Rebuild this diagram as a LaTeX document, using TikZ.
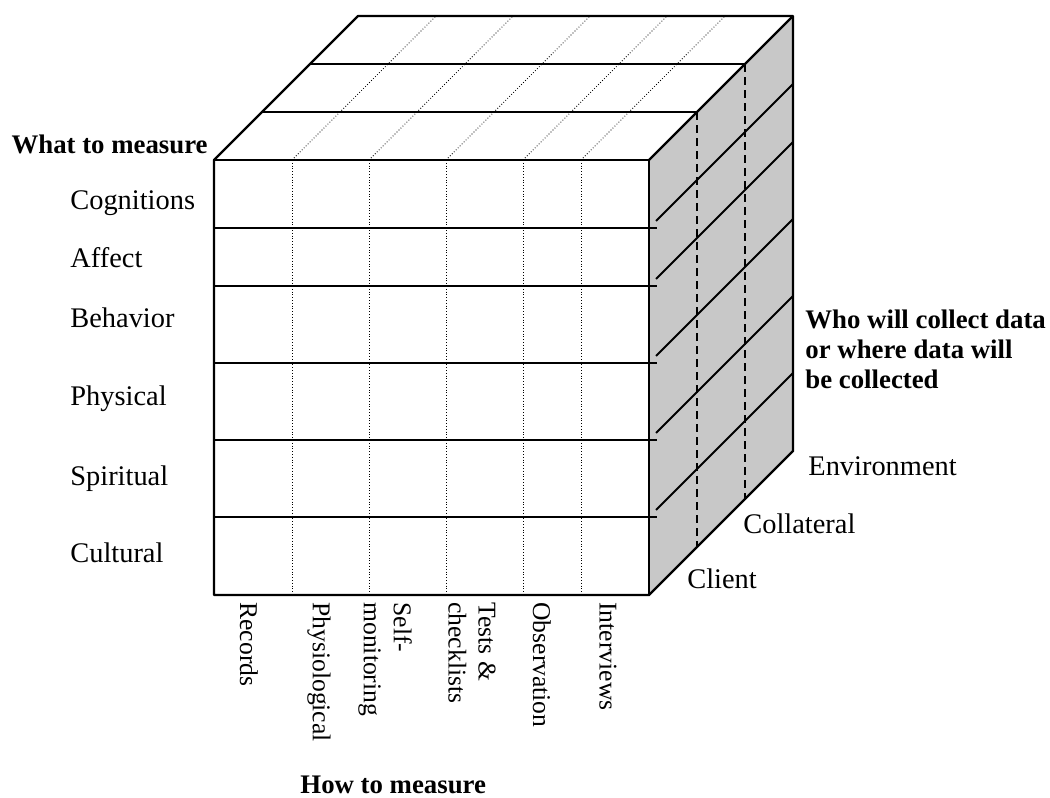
\documentclass[tikz,border=0pt]{standalone}
\usepackage{fontspec}
\setmainfont{Liberation Serif}
\definecolor{sidegray}{RGB}{200,200,200}

\begin{document}
\begin{tikzpicture}[x=0.5pt, y=-0.5pt,
	cubeedge/.style={line width=1.2pt, line join=round},
	rowline/.style={line width=0.7pt},
	colline/.style={line width=0.4pt, densely dotted},
	backline/.style={line width=0.7pt, dash pattern=on 4pt off 2.5pt},
	diagline/.style={line width=1pt},
	rowlab/.style={anchor=base west, inner sep=0pt, font=\fontsize{14.2}{17}\selectfont},
	collab/.style={rotate=-90, anchor=west, inner sep=0pt, align=left, font=\fontsize{12.8}{15}\selectfont},
	sidelab/.style={anchor=base west, inner sep=0pt, font=\fontsize{14.2}{17}\selectfont},
	headlab/.style={inner sep=0pt, align=left, font=\fontsize{13.4}{15}\selectfont\bfseries}]
\useasboundingbox (0,0) rectangle (1050,798);

\coordinate (fl) at (214,160);
\coordinate (fr) at (649,160);
\coordinate (bl) at (214,595);
\coordinate (br) at (649,595);
\coordinate (tl) at (358,16);
\coordinate (tr) at (793,16);
\coordinate (rb) at (793,451);

\fill[sidegray] (fr) -- (tr) -- (rb) -- (br) -- cycle;
\fill[white] (fl) -- (tl) -- (tr) -- (fr) -- cycle;
\fill[white] (fl) rectangle (br);

\foreach \d in {48,96}
	\draw[rowline] ({214+\d},{160-\d}) -- ({649+\d},{160-\d});
\foreach \x in {292,369,446,523,581}
	\draw[colline] (\x,160) -- ++(144,-144);

\foreach \y in {228,286,363,440,517}
	\draw[rowline] (214,\y) -- (657,\y);
\foreach \x in {292,369,446,523,581}
	\draw[colline] (\x,160) -- (\x,595);

\draw[backline] (697,112) -- (697,547);
\draw[backline] (745,64) -- (745,499);
\foreach \y in {228,286,363,440,517}
	\draw[diagline, shorten <=5pt] (649,\y) -- ++(144,-144);

\draw[cubeedge] (bl) -- (fl) -- (tl) -- (tr) -- (rb) -- (br) -- cycle;
\draw[cubeedge] (fl) -- (fr) -- (br);
\draw[cubeedge] (fr) -- (tr);

\node[headlab, anchor=base east] (what) at (208,153) {What to measure};
\foreach \lab/\y/\n in {Cognitions/209/cog, Affect/267/aff, Behavior/327/beh,
		Physical/405/phy, Spiritual/485/spi, Cultural/562/cul}
	\node[rowlab] (\n) at (70,\y) {\lab};

\foreach \lab/\x/\n in {Records/249/rec, Physiological/319/phs, Self-\\monitoring/385/slf,
		Tests \&\\checklists/472/tst, Observation/542/obs, Interviews/608/int}
	\node[collab] (\n) at (\x,602) {\lab};
\node[headlab, anchor=base west] (how) at (300,793) {How to measure};

\node[headlab, anchor=north west] (who) at (805,309) {Who will collect data\\or where data will\\be collected};
\node[sidelab] (env) at (808,475) {Environment};
\node[sidelab] (col) at (743,533) {Collateral};
\node[sidelab] (cli) at (687,588) {Client};
\end{tikzpicture}
\end{document}
